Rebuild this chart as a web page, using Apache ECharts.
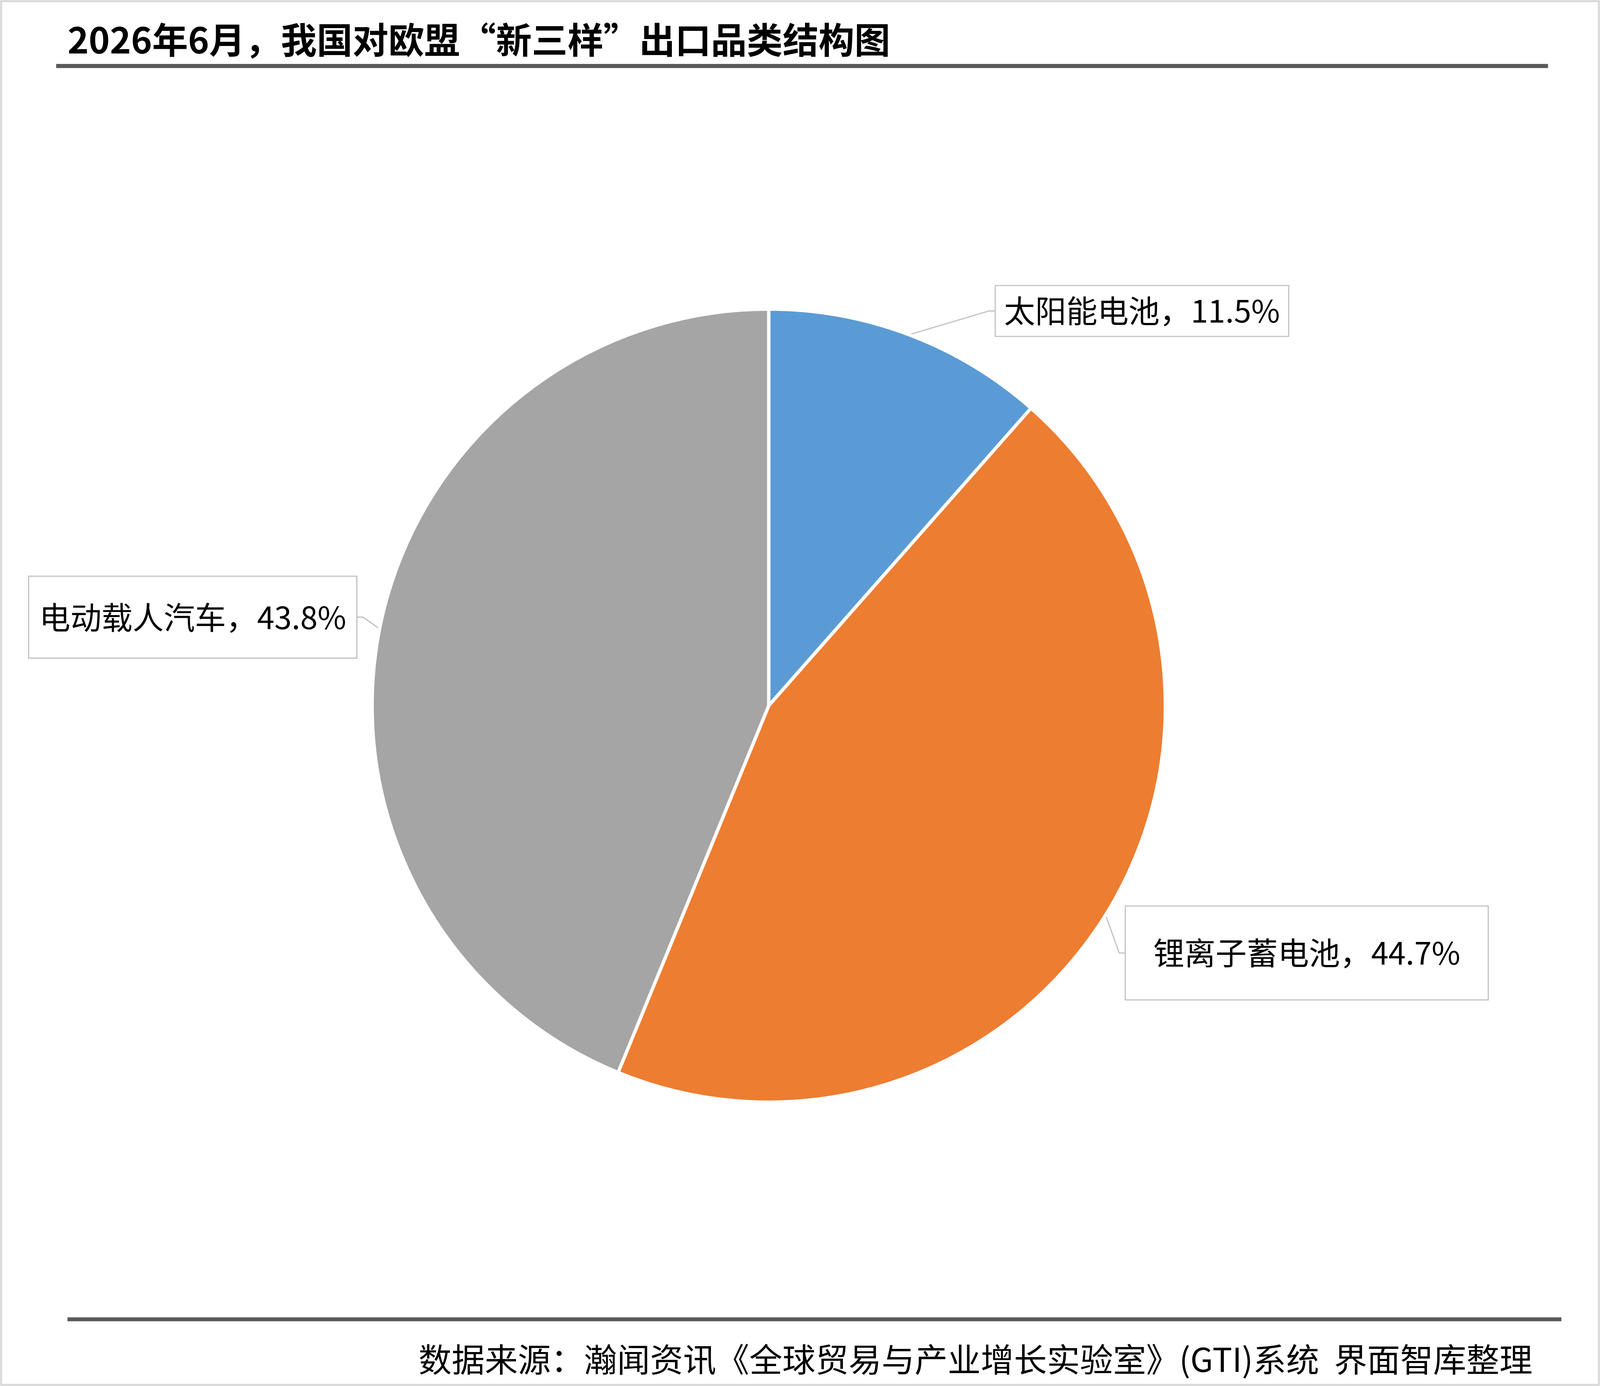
<!DOCTYPE html>
<html lang="zh-CN">
<head>
    <meta charset="UTF-8">
    <title>2026年6月，我国对欧盟“新三样”出口品类结构图</title>
    <script src="https://cdn.jsdelivr.net/npm/echarts@6.0.0/dist/echarts.min.js"></script>
    <style>
        html, body { margin: 0; padding: 0; background: #fff; overflow: hidden; }
        #main { width: 100vw; height: 100vh; }
    </style>
</head>
<body>
    <div id="main"></div>
    <script>
        // 数据
        const categories = ['太阳能电池', '锂离子蓄电池', '电动载人汽车'];
        const shares = [11.5, 44.7, 43.8];
        const colors = ['#5B9BD5', '#ED7D31', '#A5A5A5'];

        // 版式按 5757x3549 原图量取，运行时按窗口缩放
        const REF_W = 5757, REF_H = 3549;
        const PIE_C = [2766, 1820], PIE_R = 1427;
        // 标签框 (左, 上, 宽, 高)
        const boxes = [
            [3583, 310, 1052, 179],
            [4051, 2543, 1302, 334],
            [105, 1356, 1177, 291]
        ];

        const FONT = "'Noto Sans CJK SC', 'Noto Sans', sans-serif";
        const chart = echarts.init(document.getElementById('main'));
        const W = chart.getWidth(), H = chart.getHeight();
        const s = Math.min(W / REF_W, H / REF_H);
        const ox = (W - REF_W * s) / 2;
        const X = x => ox + x * s;
        const yTop = y => y * s;                    // 贴顶部的元素
        const yBot = y => H - (REF_H - y) * s;      // 贴底部的元素
        const ruleTop = yTop(230), ruleBot = yBot(3302);
        const cy = (ruleTop + ruleBot) / 2 + (PIE_C[1] - (230 + 3302) / 2) * s;
        const cx = X(PIE_C[0]);
        const yPie = y => cy + (y - PIE_C[1]) * s;  // 随饼图定位的元素

        const pieData = categories.map((name, i) => ({
            name: name,
            value: shares[i],
            itemStyle: { color: colors[i] },
            label: { width: boxes[i][2] * s, height: boxes[i][3] * s, lineHeight: boxes[i][3] * s }
        }));

        const option = {
            animation: false,
            backgroundColor: '#fff',
            title: [{
                text: '2026年6月，我国对欧盟“新三样”出口品类结构图',
                left: X(236), top: yTop(70),
                textStyle: { fontFamily: FONT, fontSize: 129 * s, fontWeight: 'bold', color: '#000', lineHeight: 134 * s }
            }, {
                text: '数据来源：瀚闻资讯《全球贸易与产业增长实验室》(GTI)系统  界面智库整理',
                right: W - X(5521), top: yBot(3383),
                textStyle: { fontFamily: FONT, fontSize: 119 * s, fontWeight: 'normal', color: '#000', lineHeight: 126 * s }
            }],
            graphic: [
                { type: 'rect', shape: { x: 3, y: 3, width: W - 6, height: H - 6 }, style: { fill: 'none', stroke: '#d9d9d9', lineWidth: 7 * s }, silent: true },
                { type: 'rect', shape: { x: X(202), y: ruleTop, width: 5368 * s, height: 15 * s }, style: { fill: '#595959' }, silent: true },
                { type: 'rect', shape: { x: X(243), y: ruleBot, width: 5375 * s, height: 14 * s }, style: { fill: '#595959' }, silent: true }
            ],
            series: [{
                type: 'pie',
                center: [cx, cy],
                radius: PIE_R * s,
                startAngle: 90,
                clockwise: true,
                data: pieData,
                itemStyle: { borderColor: '#fff', borderWidth: 12 * s },
                label: {
                    show: true,
                    position: 'outside',
                    formatter: '{b}，{c}%',
                    fontFamily: FONT,
                    fontSize: 112 * s,
                    color: '#000',
                    align: 'center',
                    backgroundColor: '#fff',
                    borderColor: '#bfbfbf',
                    borderWidth: 4 * s,
                    padding: 0
                },
                labelLine: {
                    show: true,
                    length: 20 * s,
                    length2: 20 * s,
                    lineStyle: { color: '#bfbfbf', width: 4 * s }
                },
                labelLayout: function (params) {
                    const b = boxes[params.dataIndex];
                    return { x: X(b[0] + b[2] / 2), y: yPie(b[1] + b[3] / 2), align: 'center', verticalAlign: 'middle' };
                },
                emphasis: { disabled: true }
            }]
        };
        chart.setOption(option);
        window.addEventListener('resize', () => location.reload());
    </script>
</body>
</html>
